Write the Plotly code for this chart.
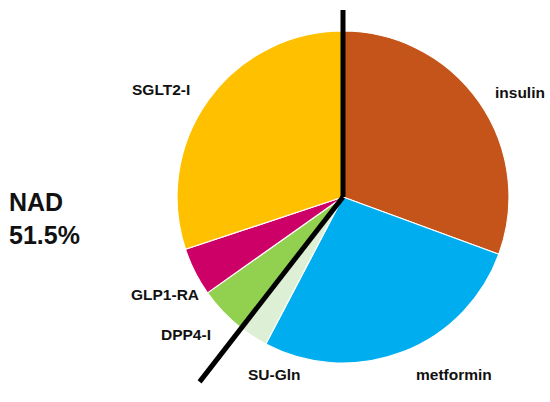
import math
import plotly.graph_objects as go

categories = ["insulin", "metformin", "SU-Gln", "DPP4-I", "GLP1-RA", "SGLT2-I"]
values = [30.6, 27.1, 2.8, 4.7, 4.7, 30.1]
colors = ["#C5541A", "#00AEEF", "#DDF0D5", "#92D050", "#CC0066", "#FFC000"]
nad_label = "NAD<br>51.5%"

W, H = 550, 402
cx, cy, R = 343, 197, 166  # pie centre / radius in pixels

fig = go.Figure(go.Pie(
    labels=categories, values=values, sort=False, direction="clockwise",
    rotation=0, marker=dict(colors=colors, line=dict(color="white", width=1.2)),
    textinfo="none", hoverinfo="label+percent", showlegend=False,
    domain=dict(x=[(cx - R) / W, (cx + R) / W], y=[1 - (cy + R) / H, 1 - (cy - R) / H]),
))

def px(x, y):
    return x / W, 1 - y / H

# divider line: from top (angle 0) through centre to the SU-Gln/DPP4-I boundary
total = sum(values)
cut = sum(values[:3]) / total * 2 * math.pi
x0, y0 = px(cx, cy - 187)
x1, y1 = px(cx, cy)
L = 234
x2, y2 = px(cx + L * math.sin(cut), cy - L * math.cos(cut))
for (a, b, c, d) in [(x0, y0, x1, y1), (x1, y1, x2, y2)]:
    fig.add_shape(type="line", xref="paper", yref="paper", x0=a, y0=b, x1=c, y1=d,
                  line=dict(color="black", width=5))

label_pos = {
    "insulin": (493, 92, "left"),
    "metformin": (414, 374, "left"),
    "SU-Gln": (246, 374, "left"),
    "DPP4-I": (213, 334, "right"),
    "GLP1-RA": (201, 294, "right"),
    "SGLT2-I": (192, 90, "right"),
}
font = dict(family="Liberation Sans, Arial, sans-serif", size=15.5, color="#111")
for name in categories:
    x, y, anc = label_pos[name]
    ax, ay = px(x, y)
    fig.add_annotation(text="<b>%s</b>" % name, x=ax, y=ay, xref="paper", yref="paper",
                       xanchor=anc, yanchor="middle", showarrow=False, font=font)

nx, ny = px(7, 218)
fig.add_annotation(text="<b>%s</b>" % nad_label, x=nx, y=ny, xref="paper", yref="paper",
                   xanchor="left", yanchor="middle", align="left", showarrow=False,
                   font=dict(family="Liberation Sans, Arial, sans-serif", size=25, color="#111"))

fig.update_layout(width=W, height=H, margin=dict(l=0, r=0, t=0, b=0),
                  paper_bgcolor="white", plot_bgcolor="white")
fig.write_html("out.html", config={"displayModeBar": False},
               post_script="document.body.style.margin='0';document.body.style.overflow='hidden';")
